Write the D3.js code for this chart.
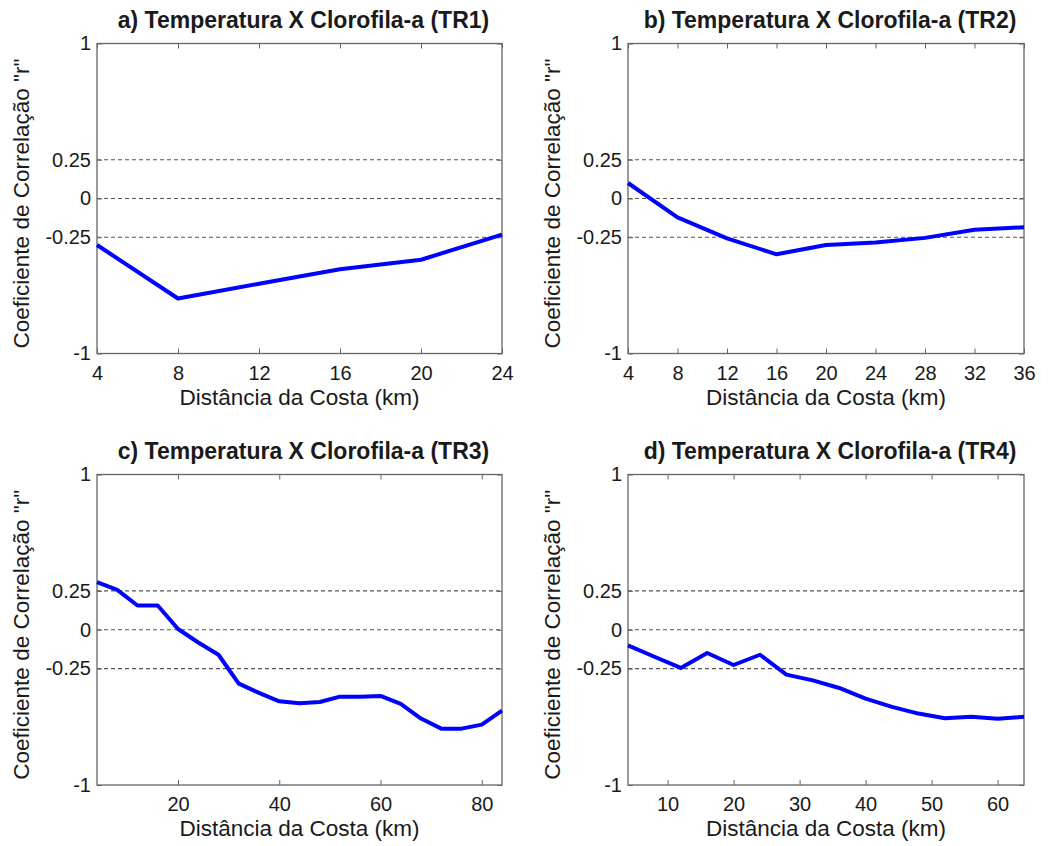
<!DOCTYPE html>
<html>
<head>
<meta charset="utf-8">
<title>Temperatura X Clorofila-a</title>
<script src="https://cdn.jsdelivr.net/npm/d3@7"></script>
<style>
  body { margin: 0; background: #fff; }
  text { font-family: "Liberation Sans", Arial, sans-serif; fill: #1a1a1a; }
</style>
</head>
<body>
<div id="chart"></div>
<script>
// correlation r vs. distance from the coast, one pair of arrays per transect
var kmTR1 = [4, 8, 12, 16, 20, 24];
var rTR1  = [-0.30, -0.645, -0.55, -0.457, -0.395, -0.233];

var kmTR2 = [4, 8, 12, 16, 20, 24, 28, 32, 36];
var rTR2  = [0.10, -0.122, -0.257, -0.36, -0.30, -0.284, -0.254, -0.201, -0.186];

var kmTR3 = [4, 8, 12, 16, 20, 24, 28, 32, 36, 40, 44, 48, 52, 56, 60, 64, 68, 72, 76, 80, 84];
var rTR3  = [0.307, 0.257, 0.156, 0.156, 0.005, -0.082, -0.161, -0.347, -0.407, -0.461, -0.474,
             -0.465, -0.431, -0.431, -0.426, -0.478, -0.572, -0.637, -0.637, -0.611, -0.521];

var kmTR4 = [4, 8, 12, 16, 20, 24, 28, 32, 36, 40, 44, 48, 52, 56, 60, 64];
var rTR4  = [-0.101, -0.174, -0.246, -0.150, -0.227, -0.161, -0.289, -0.326, -0.375, -0.444,
             -0.497, -0.540, -0.570, -0.561, -0.574, -0.561];

var yTicks = [-1, -0.25, 0, 0.25, 1];
var yTickLabels = ["-1", "-0.25", "0", "0.25", "1"];
var refLines = [0.25, 0, -0.25];

var titles = [
  "a) Temperatura X Clorofila-a (TR1)",
  "b) Temperatura X Clorofila-a (TR2)",
  "c) Temperatura X Clorofila-a (TR3)",
  "d) Temperatura X Clorofila-a (TR4)"
];
var xLabel = "Distância da Costa (km)";
var yLabel = "Coeficiente de Correlação \"r\"";

var panels = [
  { km: kmTR1, r: rTR1, dom: [4, 24], xt: [4, 8, 12, 16, 20, 24], left: 97,  top: 43.5,  w: 405, h: 310 },
  { km: kmTR2, r: rTR2, dom: [4, 36], xt: [4, 8, 12, 16, 20, 24, 28, 32, 36], left: 628, top: 43.5, w: 396, h: 310 },
  { km: kmTR3, r: rTR3, dom: [4, 84], xt: [20, 40, 60, 80], left: 97,  top: 474.5, w: 405, h: 310.5 },
  { km: kmTR4, r: rTR4, dom: [4, 64], xt: [10, 20, 30, 40, 50, 60], left: 628, top: 474.5, w: 396, h: 310.5 }
];

var svg = d3.select("#chart").append("svg")
  .attr("width", 1054)
  .attr("height", 846);

panels.forEach(function(p, i) {
  var g = svg.append("g").attr("transform", "translate(" + p.left + "," + p.top + ")");

  var x = d3.scaleLinear().domain(p.dom).range([0, p.w]);
  var y = d3.scaleLinear().domain([-1, 1]).range([p.h, 0]);

  // dashed reference lines
  g.selectAll(".ref")
    .data(refLines)
    .enter()
    .append("line")
    .attr("x1", 0)
    .attr("x2", p.w)
    .attr("y1", function(d) { return y(d); })
    .attr("y2", function(d) { return y(d); })
    .attr("stroke", "#555")
    .attr("stroke-width", 1.2)
    .attr("stroke-dasharray", "4,3");

  // bottom / top axes, ticks pointing inwards like matlab
  var xb = g.append("g").attr("transform", "translate(0," + p.h + ")")
    .call(d3.axisBottom(x).tickValues(p.xt).tickSizeInner(-5).tickSizeOuter(0).tickPadding(12));
  var xtop = g.append("g")
    .call(d3.axisTop(x).tickValues(p.xt).tickSizeInner(-5).tickSizeOuter(0).tickFormat(""));
  var yl = g.append("g")
    .call(d3.axisLeft(y).tickValues(yTicks).tickSizeInner(-5).tickSizeOuter(0).tickPadding(6)
      .tickFormat(function(d, k) { return yTickLabels[k]; }));
  var yr = g.append("g").attr("transform", "translate(" + p.w + ",0)")
    .call(d3.axisRight(y).tickValues(yTicks).tickSizeInner(-5).tickSizeOuter(0).tickFormat(""));

  [xb, xtop, yl, yr].forEach(function(a) {
    a.select(".domain").remove();
    a.selectAll("line").attr("stroke", "#666");
    a.selectAll("text").attr("font-size", 20).attr("fill", "#1a1a1a")
      .attr("font-family", "Liberation Sans, Arial, sans-serif");
  });

  // box
  g.append("rect")
    .attr("width", p.w)
    .attr("height", p.h)
    .attr("fill", "none")
    .attr("stroke", "#666")
    .attr("stroke-width", 1.3);

  var line = d3.line()
    .x(function(d) { return x(d[0]); })
    .y(function(d) { return y(d[1]); });

  g.append("path")
    .datum(d3.zip(p.km, p.r))
    .attr("d", line)
    .attr("fill", "none")
    .attr("stroke", "#0000ff")
    .attr("stroke-width", 4)
    .attr("stroke-linejoin", "round");

  g.append("text")
    .attr("x", p.w / 2 + 4)
    .attr("y", -16)
    .attr("text-anchor", "middle")
    .attr("font-size", 23)
    .attr("font-weight", "bold")
    .text(titles[i]);

  g.append("text")
    .attr("x", p.w / 2)
    .attr("y", p.h + 51)
    .attr("text-anchor", "middle")
    .attr("font-size", 22.5)
    .text(xLabel);

  g.append("text")
    .attr("transform", "translate(" + (-68) + "," + (p.h / 2 + 5) + ") rotate(-90)")
    .attr("text-anchor", "middle")
    .attr("font-size", 22.5)
    .text(yLabel);
});
</script>
</body>
</html>
